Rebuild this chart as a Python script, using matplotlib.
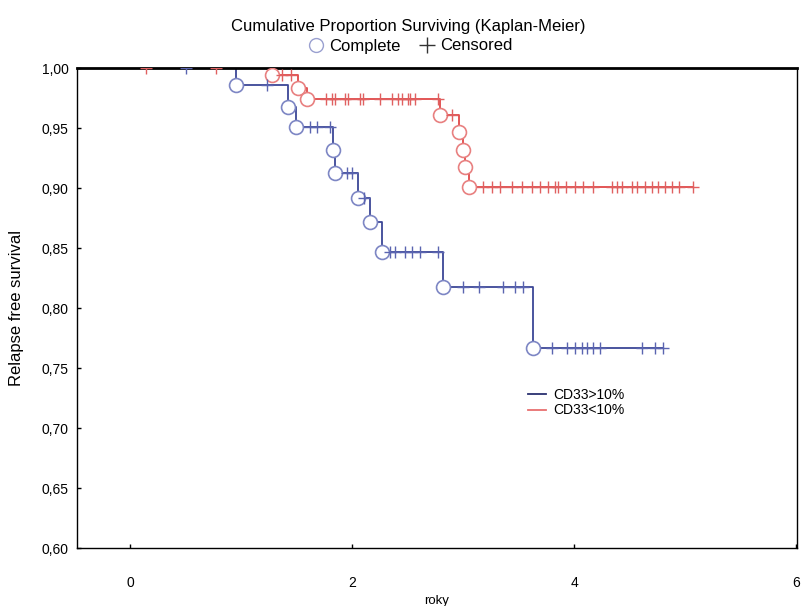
import matplotlib
matplotlib.use("Agg")
import matplotlib.pyplot as plt
from matplotlib.lines import Line2D
from matplotlib.ticker import FuncFormatter, FixedLocator

plt.rcParams['font.family'] = ['Liberation Sans', 'DejaVu Sans']

# ---- data ----
title = "Cumulative Proportion Surviving (Kaplan-Meier)"
x_label = "roky"
y_label = "Relapse free survival"
x_ticks = [0, 2, 4, 6]
y_ticks = [0.60, 0.65, 0.70, 0.75, 0.80, 0.85, 0.90, 0.95, 1.00]

group_names = ["CD33>10%", "CD33<10%"]

# CD33>10% (blue)
blue_event_t = [0.95, 1.42, 1.49, 1.83, 1.85, 2.05, 2.16, 2.27, 2.82, 3.63]
blue_event_s = [0.986, 0.9675, 0.951, 0.9317, 0.9125, 0.8917, 0.8717, 0.8467, 0.8175, 0.7667]
blue_cens_t = [0.50, 1.23, 1.62, 1.68, 1.80, 1.95, 2.00, 2.11,
               2.34, 2.39, 2.48, 2.54, 2.61, 2.77,
               3.00, 3.14, 3.36, 3.47, 3.54,
               3.80, 3.94, 4.01, 4.07, 4.12, 4.17, 4.23, 4.61, 4.73, 4.80]

# CD33<10% (red)
red_event_t = [1.28, 1.51, 1.59, 2.79, 2.96, 3.00, 3.02, 3.05]
red_event_s = [0.994, 0.9833, 0.974, 0.961, 0.9467, 0.9317, 0.9175, 0.9008]
red_cens_t = [0.14, 0.77, 1.37, 1.45,
              1.76, 1.82, 1.85, 1.94, 1.96, 2.07, 2.10, 2.25, 2.36, 2.41,
              2.45, 2.50, 2.52, 2.57, 2.77, 2.90,
              3.18, 3.26, 3.33, 3.44, 3.53, 3.62, 3.69, 3.77, 3.83, 3.86,
              3.93, 4.01, 4.08, 4.17, 4.34, 4.39, 4.43, 4.52, 4.57, 4.64,
              4.70, 4.76, 4.82, 4.88, 4.95, 5.07]


def surv_at(t, ev_t, ev_s):
    s = 1.0
    for et, es in zip(ev_t, ev_s):
        if et <= t:
            s = es
    return s


fig = plt.figure(figsize=(8.01, 6.06), dpi=100)
ax = fig.add_axes([77 / 801, 1 - 548 / 606, (797 - 77) / 801, (548 - 68) / 606])

groups = [
    (blue_event_t, blue_event_s, blue_cens_t, '#3c4696', '#7d86c4', '#5a64b0'),
    (red_event_t, red_event_s, red_cens_t, '#e04848', '#e88080', '#e06060'),
]

for ev_t, ev_s, cens_t, lc, cc, kc in groups:
    end_t = max(cens_t + ev_t)
    xs = [0.0] + list(ev_t) + [end_t]
    ys = [1.0] + list(ev_s) + [ev_s[-1]]
    ax.step(xs, ys, where='post', color=lc, lw=1.3, zorder=2)
    ax.plot(ev_t, ev_s, 'o', ms=10, mfc='white', mec=cc, mew=1.2, zorder=3)
    cs = [surv_at(t, ev_t, ev_s) for t in cens_t]
    ax.plot(cens_t, cs, '+', ms=8, mec=kc, mew=1.0, zorder=4)

ax.set_xlim(-0.48, 6.01)
ax.set_ylim(0.60, 1.00)
ax.xaxis.set_major_locator(FixedLocator(x_ticks))
ax.yaxis.set_major_locator(FixedLocator(y_ticks))
ax.yaxis.set_major_formatter(FuncFormatter(lambda v, p: f"{v:.2f}".replace('.', ',')))
ax.xaxis.set_major_formatter(FuncFormatter(lambda v, p: f"{v:.0f}"))
ax.tick_params(axis='both', direction='in', length=3, width=1, labelsize=10, colors='black')
ax.tick_params(axis='x', pad=20)
ax.tick_params(axis='y', pad=6)
for sp in ax.spines.values():
    sp.set_color('black')
    sp.set_linewidth(1.0)
ax.spines['top'].set_linewidth(2.0)

ax.set_xlabel(x_label, fontsize=9.5, labelpad=4)
ax.set_ylabel(y_label, fontsize=12, labelpad=13)

fig.text(0.51, 1 - 27 / 606, title, ha='center', va='center', fontsize=12)

h_top = [Line2D([], [], ls='none', marker='o', ms=10, mfc='white', mec='#9aa0d0', mew=1.0),
         Line2D([], [], ls='none', marker='+', ms=12, mec='#333333', mew=1.0)]
fig.legend(h_top, ["Complete", "Censored"], loc='center', bbox_to_anchor=(410 / 801, 1 - 46 / 606),
           ncol=2, frameon=False, fontsize=12, handletextpad=0.3, columnspacing=1.1,
           handlelength=1.0, borderpad=0)

h_grp = [Line2D([], [], color='#2a3070', lw=1.3), Line2D([], [], color='#e87070', lw=1.3)]
ax.legend(h_grp, group_names, loc='upper left', bbox_to_anchor=((528 - 77) / 720, (548 - 388) / 480),
          frameon=False, fontsize=10, handlelength=1.3, handletextpad=0.5, labelspacing=0.1,
          borderpad=0, borderaxespad=0)

fig.savefig("out.png", dpi=100)
